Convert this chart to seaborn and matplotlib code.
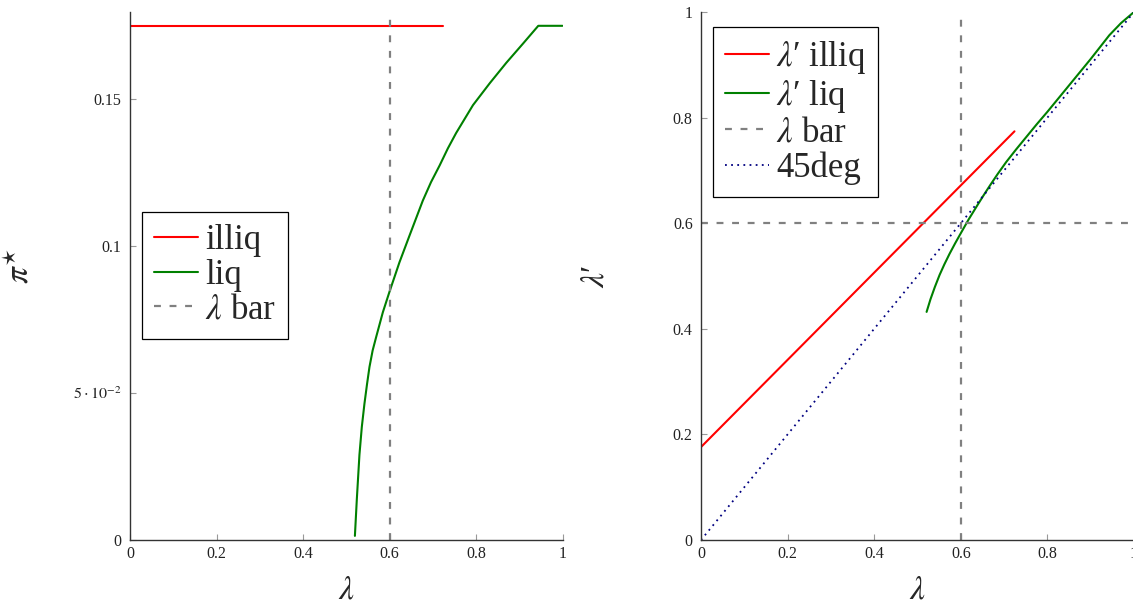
import matplotlib
matplotlib.use("Agg")
import matplotlib.pyplot as plt
import seaborn as sns

# values
lam_bar = 0.6

# left panel: pi* against lambda
illiq_x = [0.0, 0.723]
illiq_pi = [0.175, 0.175]
liq_x = [0.520, 0.5245, 0.5305, 0.536, 0.542, 0.548, 0.5537, 0.561, 0.569, 0.5846,
         0.600, 0.623, 0.646, 0.677, 0.696, 0.716, 0.735, 0.754, 0.793, 0.832,
         0.870, 0.909, 0.944, 1.0]
liq_pi = [0.0014, 0.014, 0.029, 0.0385, 0.0463, 0.053, 0.0589, 0.0645, 0.069, 0.0775,
          0.0845, 0.0945, 0.1035, 0.1155, 0.1218, 0.1275, 0.1333, 0.1385, 0.148, 0.1555,
          0.1624, 0.169, 0.175, 0.175]

# right panel: lambda' against lambda
illiq_lp_x = [0.0, 0.724]
illiq_lp = [0.176, 0.774]
liq_lp_x = [0.521, 0.530, 0.540, 0.551, 0.562, 0.574, 0.587, 0.600, 0.618, 0.636,
            0.652, 0.667, 0.685, 0.705, 0.728, 0.751, 0.775, 0.800, 0.825, 0.850,
            0.875, 0.900, 0.922, 0.943, 0.970, 1.0]
liq_lp = [0.432, 0.456, 0.479, 0.502, 0.522, 0.542, 0.562, 0.581, 0.607, 0.631,
          0.652, 0.671, 0.693, 0.716, 0.740, 0.763, 0.787, 0.811, 0.836, 0.861,
          0.886, 0.911, 0.934, 0.956, 0.979, 1.0]
diag = [0.0, 1.0]

x_ticks = [0, 0.2, 0.4, 0.6, 0.8, 1.0]
x_labels = ["0", "0.2", "0.4", "0.6", "0.8", "1"]
pi_ticks = [0, 0.05, 0.1, 0.15]
pi_labels = ["0", r"$5\cdot10^{-2}$", "0.1", "0.15"]
lp_ticks = [0, 0.2, 0.4, 0.6, 0.8, 1.0]
lp_labels = ["0", "0.2", "0.4", "0.6", "0.8", "1"]

sns.set_theme(style="white")
plt.rcParams["font.family"] = ["Liberation Serif", "DejaVu Serif"]
plt.rcParams["mathtext.fontset"] = "stix"

RED = "#ff0000"
GREEN = "#008000"
GRAY = "#808080"
NAVY = "#000080"
DASH = (0, (3.1, 3.9))
DOT = (0, (1, 2.4))
LP = "$\\lambda$\u2032"

fig = plt.figure(figsize=(11.33, 6.09), dpi=100)
W, H = 1133, 609
ax1 = fig.add_axes([130 / W, 69 / H, 432.5 / W, 528 / H])
ax2 = fig.add_axes([701 / W, 69 / H, 433 / W, 528 / H])

# left panel
sns.lineplot(x=illiq_x, y=illiq_pi, ax=ax1, color=RED, lw=1.5, label="illiq")
sns.lineplot(x=liq_x, y=liq_pi, ax=ax1, color=GREEN, lw=1.5, label="liq",
             sort=False, estimator=None)
ax1.axvline(lam_bar, color=GRAY, lw=1.6, ls=DASH, label=r"$\lambda$ bar")
ax1.set_xlim(0, 1)
ax1.set_ylim(0, 0.1797)
ax1.set_yticks(pi_ticks)
ax1.set_yticklabels(pi_labels)
ax1.set_ylabel(r"$\pi^{\star}$", fontsize=24)
ax1.yaxis.set_label_coords(-0.22, 0.52)

# right panel
sns.lineplot(x=illiq_lp_x, y=illiq_lp, ax=ax2, color=RED, lw=1.5,
             label=LP + " illiq")
sns.lineplot(x=liq_lp_x, y=liq_lp, ax=ax2, color=GREEN, lw=1.5,
             label=LP + " liq", sort=False, estimator=None)
ax2.axvline(lam_bar, color=GRAY, lw=1.6, ls=DASH, label=r"$\lambda$ bar")
ax2.axhline(lam_bar, color=GRAY, lw=1.6, ls=DASH)
sns.lineplot(x=diag, y=diag, ax=ax2, color=NAVY, lw=1.3, ls=DOT, label="45deg")
ax2.set_xlim(0, 1)
ax2.set_ylim(0, 1)
ax2.set_yticks(lp_ticks)
ax2.set_yticklabels(lp_labels)
ax2.set_ylabel(LP, fontsize=24)
ax2.yaxis.set_label_coords(-0.21, 0.5)

for ax in (ax1, ax2):
    ax.set_xticks(x_ticks)
    ax.set_xticklabels(x_labels)
    ax.set_xlabel(r"$\lambda$", fontsize=24)
    ax.xaxis.set_label_coords(0.5, -0.066)
    sns.despine(ax=ax)
    for side in ("left", "bottom"):
        ax.spines[side].set_color("#333333")
        ax.spines[side].set_linewidth(1.0)
    ax.tick_params(direction="in", length=4.5, width=0.8, color="#999999",
                   labelsize=11.5, labelcolor="#222222", left=True, bottom=True)
    ax.tick_params(axis="y", pad=6)
    ax.tick_params(axis="x", pad=4)

leg_kw = dict(fontsize=25, frameon=True, fancybox=False, framealpha=1,
              edgecolor="black", handlelength=1.27, handletextpad=0.2,
              borderpad=0.35, labelspacing=0.05, borderaxespad=0,
              loc="upper left")
l1 = ax1.legend(bbox_to_anchor=(142 / W, 1 - 212 / H),
                bbox_transform=fig.transFigure, **leg_kw)
l2 = ax2.legend(bbox_to_anchor=(713 / W, 1 - 27 / H),
                bbox_transform=fig.transFigure, **leg_kw)
for leg in (l1, l2):
    leg.get_frame().set_linewidth(0.9)

fig.savefig("out.png", dpi=100)
